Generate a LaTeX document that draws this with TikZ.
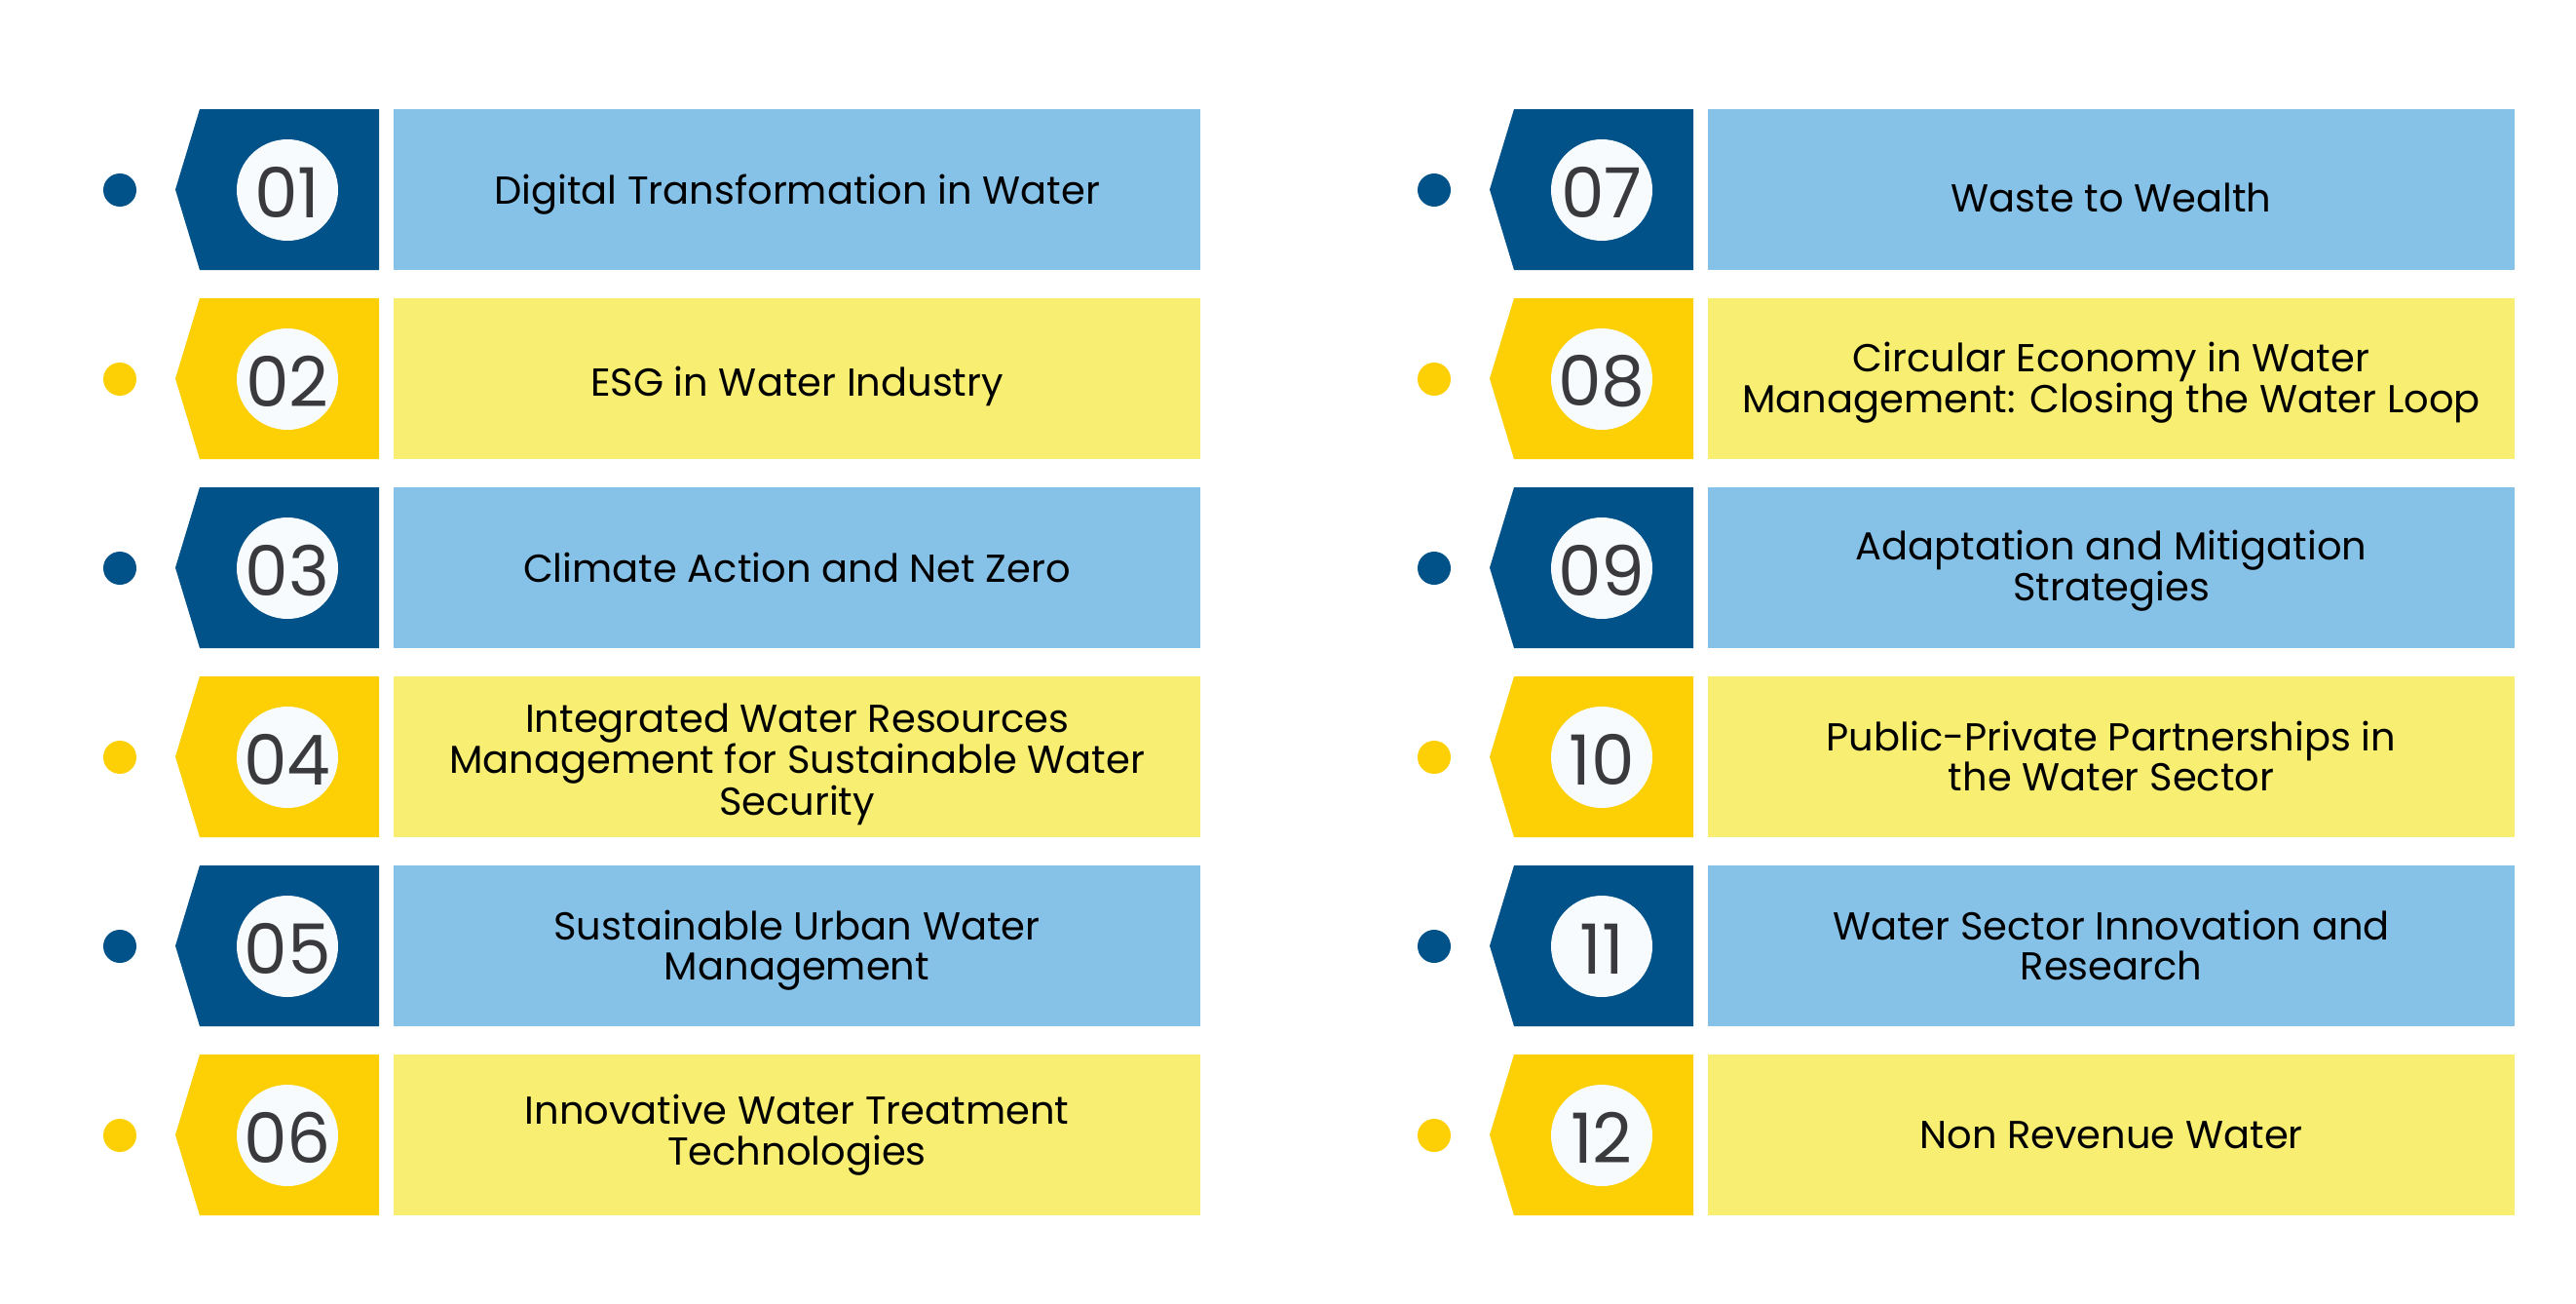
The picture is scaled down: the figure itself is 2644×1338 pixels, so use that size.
\documentclass[tikz,border=0pt]{standalone}
\usepackage{fontspec}
\setmainfont{Poppins}
\definecolor{dblue}{HTML}{02528A}
\definecolor{lblue}{HTML}{86C1E8}
\definecolor{dyellow}{HTML}{FCD005}
\definecolor{lyellow}{HTML}{F7EE72}
\definecolor{circwhite}{HTML}{F7FBFE}
\definecolor{numgray}{HTML}{3A3A3C}
\tikzset{
  txtbox/.style={rectangle, inner sep=0pt, minimum width=828pt, minimum height=165pt,
    anchor=north west},
  txtlabel/.style={inner sep=0pt, anchor=base, text=black,
    font=\fontsize{40}{41}\selectfont},
  numcirc/.style={circle, fill=circwhite, minimum size=104pt, inner sep=0pt},
  numtext/.style={inner sep=0pt, font=\fontsize{71}{71}\selectfont, text=numgray},
  dotnode/.style={circle, minimum size=34pt, inner sep=0pt},
  tabshape/.style={draw=none},
}
% #1 xoff, #2 ytop, #3 id, #4 number, #5 text, #6 dark colour, #7 light colour, #8 first baseline from box top
\newcommand\itemrow[8]{%
  \begin{scope}[shift={(#1,#2)}]
    \node[dotnode, fill=#6] (dot#3) at (123,83) {};
    \fill[#6, tabshape] (205,0) -- (389,0) -- (389,165) -- (205,165) -- (180,82.5) -- cycle;
    \node[numcirc] (num#3) at (295,83) {};
    \node[numtext] (n#3) at ([yshift=-2.5pt]num#3.center) {#4};
    \node[txtbox, fill=#7] (box#3) at (404,0) {};
    \node[txtlabel] (txt#3) at (818,#8)
      {\begin{tabular}[t]{@{}c@{}}#5\end{tabular}};
  \end{scope}}
\begin{document}
\begin{tikzpicture}[x=1pt,y=-1pt]
  \useasboundingbox[fill=white] (0,0) rectangle (2644,1338);
  \itemrow{0}{112}{1}{01}{Digital Transformation in Water}{dblue}{lblue}{97}
  \itemrow{0}{306}{2}{02}{ESG in Water Industry}{dyellow}{lyellow}{100}
  \itemrow{0}{500}{3}{03}{Climate Action and Net Zero}{dblue}{lblue}{97}
  \itemrow{0}{694}{4}{04}{Integrated Water Resources\\Management for Sustainable Water\\Security}{dyellow}{lyellow}{57}
  \itemrow{0}{888}{5}{05}{Sustainable Urban Water\\Management}{dblue}{lblue}{76}
  \itemrow{0}{1082}{6}{06}{Innovative Water Treatment\\Technologies}{dyellow}{lyellow}{71}
  \itemrow{1349}{112}{7}{07}{Waste to Wealth}{dblue}{lblue}{105}
  \itemrow{1349}{306}{8}{08}{Circular Economy in Water\\Management: Closing the Water Loop}{dyellow}{lyellow}{75}
  \itemrow{1349}{500}{9}{09}{Adaptation and Mitigation\\Strategies}{dblue}{lblue}{74}
  \itemrow{1349}{694}{10}{10}{Public-Private Partnerships in\\the Water Sector}{dyellow}{lyellow}{76}
  \itemrow{1349}{888}{11}{11}{Water Sector Innovation and\\Research}{dblue}{lblue}{76}
  \itemrow{1349}{1082}{12}{12}{Non Revenue Water}{dyellow}{lyellow}{96}
\end{tikzpicture}
\end{document}
